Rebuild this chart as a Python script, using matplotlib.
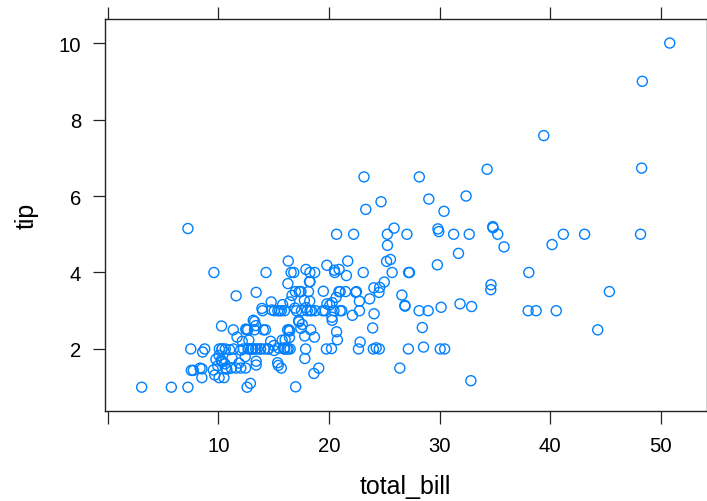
import matplotlib
matplotlib.use("Agg")
import matplotlib.pyplot as plt

plt.rcParams['font.family'] = ['Liberation Sans', 'DejaVu Sans']

# tips dataset: total_bill, tip
total_bill = [
    16.99, 10.34, 21.01, 23.68, 24.59, 25.29, 8.77, 26.88, 15.04, 14.78,
    10.27, 35.26, 15.42, 18.43, 14.83, 21.58, 10.33, 16.29, 16.97, 20.65,
    17.92, 20.29, 15.77, 39.42, 19.82, 17.81, 13.37, 12.69, 21.70, 19.65,
    9.55, 18.35, 15.06, 20.69, 17.78, 24.06, 16.31, 16.93, 18.69, 31.27,
    16.04, 17.46, 13.94, 9.68, 30.40, 18.29, 22.23, 32.40, 28.55, 18.04,
    12.54, 10.29, 34.81, 9.94, 25.56, 19.49, 38.01, 26.41, 11.24, 48.27,
    20.29, 13.81, 11.02, 18.29, 17.59, 20.08, 16.45, 3.07, 20.23, 15.01,
    12.02, 17.07, 26.86, 25.28, 14.73, 10.51, 17.92, 27.20, 22.76, 17.29,
    19.44, 16.66, 10.07, 32.68, 15.98, 34.83, 13.03, 18.28, 24.71, 21.16,
    28.97, 22.49, 5.75, 16.32, 22.75, 40.17, 27.28, 12.03, 21.01, 12.46,
    11.35, 15.38, 44.30, 22.42, 20.92, 15.36, 20.49, 25.21, 18.24, 14.31,
    14.00, 7.25, 38.07, 23.95, 25.71, 17.31, 29.93, 10.65, 12.43, 24.08,
    11.69, 13.42, 14.26, 15.95, 12.48, 29.80, 8.52, 14.52, 11.38, 22.82,
    19.08, 20.27, 11.17, 12.26, 18.26, 8.51, 10.33, 14.15, 16.00, 13.16,
    17.47, 34.30, 41.19, 27.05, 16.43, 8.35, 18.64, 11.87, 9.78, 7.51,
    14.07, 13.13, 17.26, 24.55, 19.77, 29.85, 48.17, 25.00, 13.39, 16.49,
    21.50, 12.66, 16.21, 13.81, 17.51, 24.52, 20.76, 31.71, 10.59, 10.63,
    50.81, 15.81, 7.25, 31.85, 16.82, 32.90, 17.89, 14.48, 9.60, 34.63,
    34.65, 23.33, 45.35, 23.17, 40.55, 20.69, 20.90, 30.46, 18.15, 23.10,
    15.69, 19.81, 28.44, 15.48, 16.58, 7.56, 10.34, 43.11, 13.00, 13.51,
    18.71, 12.74, 13.00, 16.40, 20.53, 16.47, 26.59, 38.73, 24.27, 12.76,
    30.06, 25.89, 48.33, 13.27, 28.17, 12.90, 28.15, 11.59, 7.74, 30.14,
    12.16, 13.42, 8.58, 15.98, 13.42, 16.27, 10.09, 20.45, 13.28, 22.12,
    24.01, 15.69, 11.61, 10.77, 15.53, 10.07, 12.60, 32.83, 35.83, 29.03,
    27.18, 22.67, 17.82, 18.78,
]
tip = [
    1.01, 1.66, 3.50, 3.31, 3.61, 4.71, 2.00, 3.12, 1.96, 3.23,
    1.71, 5.00, 1.57, 3.00, 3.02, 3.92, 1.67, 3.71, 3.50, 3.35,
    4.08, 2.75, 2.23, 7.58, 3.18, 2.34, 2.00, 2.00, 4.30, 3.00,
    1.45, 2.50, 3.00, 2.45, 3.27, 3.60, 2.00, 3.07, 2.31, 5.00,
    2.24, 2.54, 3.06, 1.32, 5.60, 3.00, 5.00, 6.00, 2.05, 3.00,
    2.50, 2.60, 5.20, 1.56, 4.34, 3.51, 3.00, 1.50, 1.76, 6.73,
    3.21, 2.00, 1.98, 3.76, 2.64, 3.15, 2.47, 1.00, 2.01, 2.09,
    1.97, 3.00, 3.14, 5.00, 2.20, 1.25, 3.08, 4.00, 3.00, 2.71,
    3.00, 3.40, 1.83, 5.00, 2.03, 5.17, 2.00, 4.00, 5.85, 3.00,
    3.00, 3.50, 1.00, 4.30, 3.25, 4.73, 4.00, 1.50, 3.00, 1.50,
    2.50, 3.00, 2.50, 3.48, 4.08, 1.64, 4.06, 4.29, 3.76, 4.00,
    3.00, 1.00, 4.00, 2.55, 4.00, 3.50, 5.07, 1.50, 1.80, 2.92,
    2.31, 1.68, 2.50, 2.00, 2.52, 4.20, 1.48, 2.00, 2.00, 2.18,
    1.50, 2.83, 1.50, 2.00, 3.25, 1.25, 2.00, 2.00, 2.00, 2.75,
    3.50, 6.70, 5.00, 5.00, 2.30, 1.50, 1.36, 1.63, 1.73, 2.00,
    2.50, 2.00, 2.74, 2.00, 2.00, 5.14, 5.00, 3.75, 2.61, 2.00,
    3.50, 2.50, 2.00, 2.00, 3.00, 3.48, 2.24, 4.50, 1.61, 2.00,
    10.00, 3.16, 5.15, 3.18, 4.00, 3.11, 2.00, 2.00, 4.00, 3.55,
    3.68, 5.65, 3.50, 6.50, 3.00, 5.00, 3.50, 2.00, 3.50, 4.00,
    1.50, 4.19, 2.56, 2.02, 4.00, 1.44, 2.00, 5.00, 2.00, 2.00,
    4.00, 2.01, 2.00, 2.50, 4.00, 3.23, 3.41, 3.00, 2.03, 2.23,
    2.00, 5.16, 9.00, 2.50, 6.50, 1.10, 3.00, 1.50, 1.44, 3.09,
    2.20, 3.48, 1.92, 3.00, 1.58, 2.50, 2.00, 3.00, 2.72, 2.88,
    2.00, 3.00, 3.39, 1.47, 3.00, 1.25, 1.00, 1.17, 4.67, 5.92,
    2.00, 2.00, 1.75, 3.00,
]

x_ticks = [0, 10, 20, 30, 40, 50]
x_labels = ["", "10", "20", "30", "40", "50"]
y_ticks = [2, 4, 6, 8, 10]

fig = plt.figure(figsize=(7.07, 5.02), dpi=100)
ax = fig.add_axes([0.1481, 0.1787, 0.8515, 0.7815])

ax.scatter(total_bill, tip, s=52, facecolors="none", edgecolors="#0080ff",
           linewidths=1.0, clip_on=False)

# lattice style 7% padding
xr = max(total_bill) - min(total_bill)
yr = max(tip) - min(tip)
ax.set_xlim(min(total_bill) - 0.07 * xr, max(total_bill) + 0.07 * xr)
ax.set_ylim(min(tip) - 0.07 * yr, max(tip) + 0.07 * yr)

ax.set_xticks(x_ticks)
ax.set_xticklabels(x_labels)
ax.set_yticks(y_ticks)

for sp in ax.spines.values():
    sp.set_color("#222222")
    sp.set_linewidth(1.0)

ax.tick_params(axis="both", direction="out", length=9, width=0.9,
               color="#222222", labelsize=14.6, top=True, right=True,
               labeltop=False, labelright=False)
ax.tick_params(axis="x", pad=9)
ax.tick_params(axis="y", pad=8)

fig.text(405.7 / 707, 1 - 487.5 / 502, "total_bill", fontsize=18,
         ha="center", va="center")
fig.text(26.5 / 707, 1 - 215.5 / 502, "tip", fontsize=18, rotation=90,
         ha="center", va="center")

fig.savefig("out.png", dpi=100)
